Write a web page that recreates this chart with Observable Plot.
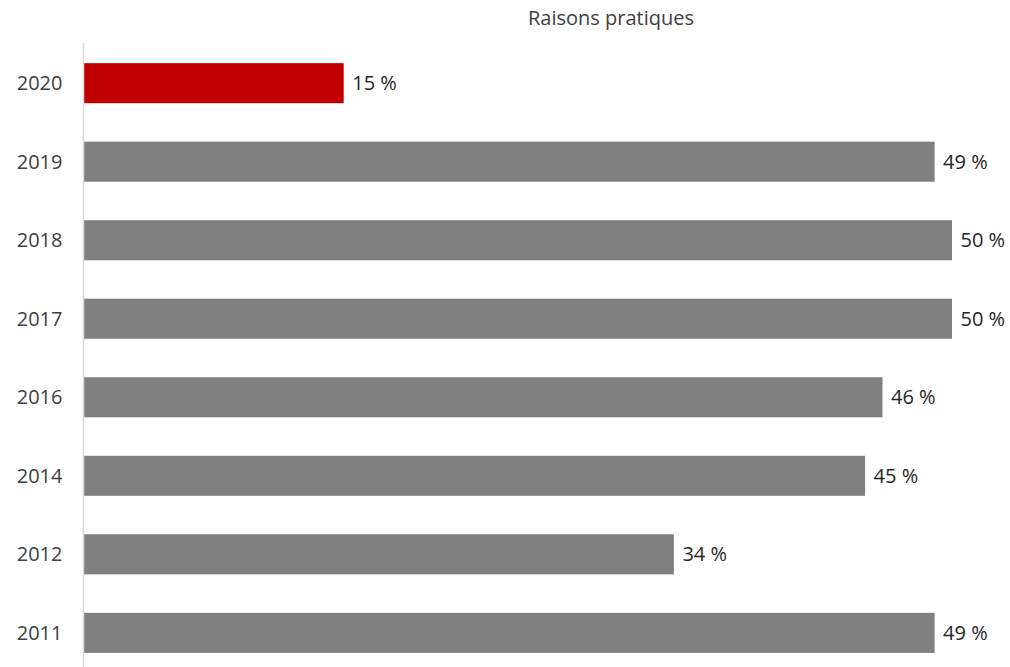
<!DOCTYPE html>
<html>
<head>
<meta charset="utf-8">
<script src="https://cdn.jsdelivr.net/npm/d3@7"></script>
<script src="https://cdn.jsdelivr.net/npm/@observablehq/plot@0.6"></script>
<style>
  html, body { margin: 0; padding: 0; background: #fff; }
  #wrap { position: relative; width: 1010px; height: 667px; font-family: "Open Sans", sans-serif; }
  #title { position: absolute; top: 4px; left: 611px; transform: translateX(-50%); font-size: 20px; color: #404040; white-space: nowrap; }
</style>
</head>
<body>
<div id="wrap">
  <div id="chart"></div>
  <div id="title">Raisons pratiques</div>
</div>
<script>
const title = "Raisons pratiques";
const years = ["2020", "2019", "2018", "2017", "2016", "2014", "2012", "2011"];
const values = [15, 49, 50, 50, 46, 45, 34, 49];
const colors = ["#C00000", "#808080", "#808080", "#808080", "#808080", "#808080", "#808080", "#808080"];

const data = years.map((y, i) => ({ year: y, value: values[i], color: colors[i] }));

const chart = Plot.plot({
  width: 1010,
  height: 667,
  marginTop: 49,
  marginBottom: 0,
  marginLeft: 83,
  marginRight: 58,
  style: { fontFamily: "'Open Sans', sans-serif", fontSize: "20px", color: "#404040", background: "#fff" },
  x: { domain: [0, 50], axis: null },
  y: { domain: years, paddingInner: 0.49, paddingOuter: 0.18, round: false, label: null, tickSize: 0, tickPadding: 21 },
  marks: [
    Plot.barX(data, { y: "year", x: "value", fill: "color" }),
    Plot.ruleX([0], { stroke: "#d9d9d9", strokeWidth: 1.5, insetTop: -6 }),
    Plot.text(data, { y: "year", x: "value", text: d => d.value + " %", textAnchor: "start", dx: 8, fill: "#262626", fontSize: 20 })
  ]
});
document.getElementById("chart").appendChild(chart);
</script>
</body>
</html>
